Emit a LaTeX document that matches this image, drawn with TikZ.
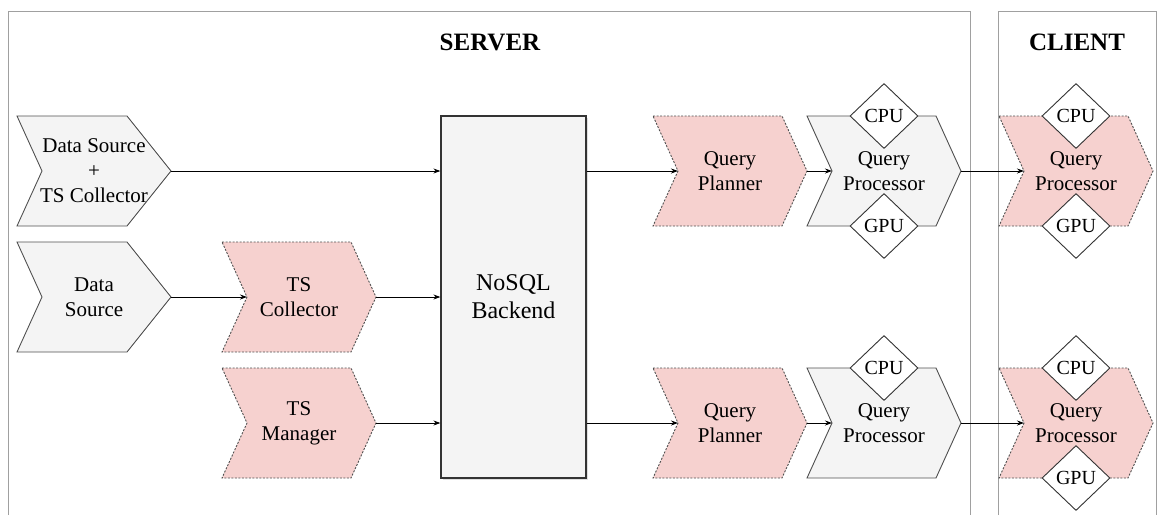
\documentclass[tikz,border=0pt]{standalone}
\usepackage{fontspec}
\setmainfont{Liberation Serif}
\usepackage{tikz}
\usetikzlibrary{arrows.meta,shapes.geometric,shadows}

\definecolor{boxgray}{HTML}{F4F4F4}
\definecolor{boxpink}{HTML}{F6D1CF}
\definecolor{edgegray}{HTML}{505050}
\definecolor{framegray}{HTML}{A0A0A0}

\tikzset{
  plain/.style={draw=edgegray, fill=boxgray, line width=0.9pt, line join=miter},
  marked/.style={draw=edgegray, fill=boxpink, line width=0.9pt, dash pattern=on 2pt off 1.5pt},
  txt/.style={align=center, inner sep=0pt, font=\fontsize{21}{25}\selectfont},
  chip/.style={diamond, draw=black!80, fill=white, line width=0.9pt, inner sep=0pt,
    minimum width=68pt, minimum height=65pt, font=\fontsize{20}{24}\selectfont},
  link/.style={-{Stealth[length=7pt,width=5pt]}, line width=0.9pt, black},
  frame/.style={draw=framegray, line width=1pt},
  title/.style={font=\fontsize{25}{28}\bfseries\selectfont}
}

% chevron: [tip depth] name, left x, top y, style, text
\newcommand{\chev}[6][25]{%
  \draw[#5] (#3,#4) -- ++({154-#1},0) -- ++(#1,55) -- ++(-#1,55) -- ++({-154+#1},0) -- ++(25,-55) -- cycle;
  \node[txt] (#2) at ({#3+77},{#4+55}) {#6};
  \coordinate (#2-in) at ({#3+25},{#4+55});
  \coordinate (#2-out) at ({#3+154},{#4+55});
  \coordinate (#2-top) at ({#3+77},#4);
  \coordinate (#2-bot) at ({#3+77},{#4+110});
}

\begin{document}
\begin{tikzpicture}[x=1pt,y=-1pt]
\useasboundingbox (0,0) rectangle (1157,515);

\draw[frame] (8,515) -- (8,11) -- (970,11) -- (970,515);
\draw[frame] (998,515) -- (998,11) -- (1156,11) -- (1156,515);
\node[title] (server) at (490,42) {SERVER};
\node[title] (client) at (1077,42) {CLIENT};

\chev[44]{dstc}{17}{116}{plain}{Data Source\\+\\TS Collector}
\chev[44]{ds}{17}{242}{plain}{Data\\Source}
\chev{tsc}{222}{242}{marked}{TS\\Collector}
\chev{tsm}{222}{368}{marked}{TS\\Manager}

\node[plain, drop shadow={shadow xshift=2pt, shadow yshift=-2pt, opacity=0.25},
  draw=black!80, line width=1.2pt, minimum width=145pt, minimum height=362pt,
  align=center, font=\fontsize{24}{28}\selectfont] (nosql) at (513.5,297) {NoSQL\\Backend};

\chev{qpa}{653}{116}{marked}{Query\\Planner}
\chev{qproca}{807}{116}{plain}{Query\\Processor}
\chev{cproca}{999}{116}{marked}{Query\\Processor}

\chev{qpb}{653}{368}{marked}{Query\\Planner}
\chev{qprocb}{807}{368}{plain}{Query\\Processor}
\chev{cprocb}{999}{368}{marked}{Query\\Processor}

\node[chip] (cpua) at (qproca-top) {CPU};
\node[chip] (gpua) at (qproca-bot) {GPU};
\node[chip] (cpub) at (qprocb-top) {CPU};
\node[chip] (ccpua) at (cproca-top) {CPU};
\node[chip] (cgpua) at (cproca-bot) {GPU};
\node[chip] (ccpub) at (cprocb-top) {CPU};
\node[chip] (cgpub) at (cprocb-bot) {GPU};

\draw[link] (dstc-out) -- (dstc-out -| nosql.west);
\draw[link] (ds-out) -- (tsc-in);
\draw[link] (tsc-out) -- (tsc-out -| nosql.west);
\draw[link] (tsm-out) -- (tsm-out -| nosql.west);
\draw[link] (nosql.east |- qpa-in) -- (qpa-in);
\draw[link] (qpa-out) -- (qproca-in);
\draw[link] (qproca-out) -- (cproca-in);
\draw[link] (nosql.east |- qpb-in) -- (qpb-in);
\draw[link] (qpb-out) -- (qprocb-in);
\draw[link] (qprocb-out) -- (cprocb-in);
\end{tikzpicture}
\end{document}
